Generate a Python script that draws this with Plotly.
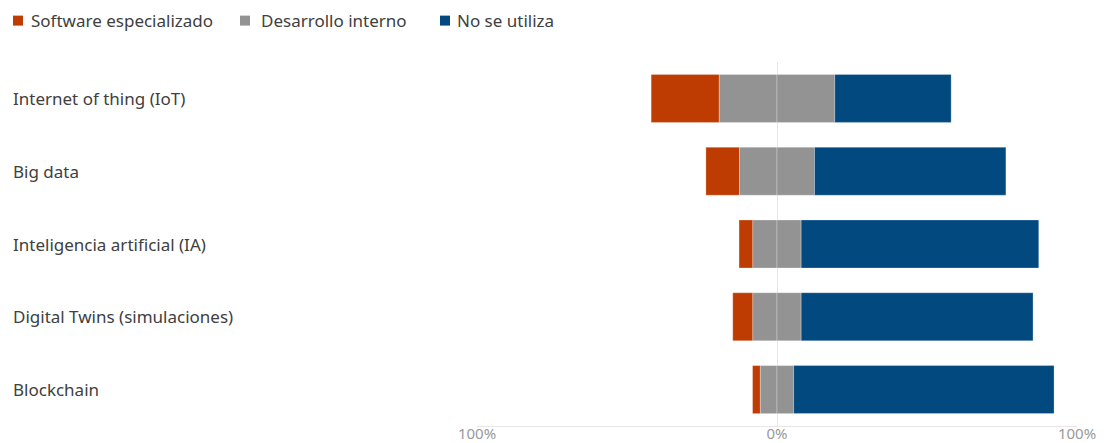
import plotly.graph_objects as go

categories = ["Internet of thing (IoT)", "Big data", "Inteligencia artificial (IA)",
              "Digital Twins (simulaciones)", "Blockchain"]
software = [22.7, 11.2, 4.6, 6.7, 2.6]
interno = [38.5, 25.0, 16.1, 16.1, 11.1]
no_utiliza = [38.8, 63.8, 79.2, 77.3, 86.8]
series_names = ["Software especializado", "Desarrollo interno", "No se utiliza"]
tick_vals = [-100, 0, 100]
tick_text = ["100%", "0%", "100%"]

C_ORANGE = "#BE3C02"
C_GRAY = "#939393"
C_BLUE = "#02497F"
colors = [C_ORANGE, C_GRAY, C_BLUE]
FONT = "Segoe UI, Noto Sans, Open Sans, sans-serif"

W, H = 1109, 443
plot_left, plot_right = 477, 1077
plot_top, plot_bottom = 61.5, 426.5
plot_w = plot_right - plot_left
plot_h = plot_bottom - plot_top


def px(x):
    return (x - plot_left) / plot_w


def py(y):
    return (plot_bottom - y) / plot_h


half = [g / 2 for g in interno]
line = dict(width=0.8, color="rgba(255,255,255,0.35)")

fig = go.Figure()
fig.add_trace(go.Bar(
    y=categories, x=software, base=[-h - s for h, s in zip(half, software)],
    orientation="h", name=series_names[0], marker=dict(color=C_ORANGE, line=line)))
fig.add_trace(go.Bar(
    y=categories, x=half, base=[-h for h in half],
    orientation="h", name=series_names[1], marker=dict(color=C_GRAY, line=line)))
fig.add_trace(go.Bar(
    y=categories, x=half, base=[0 for _ in half],
    orientation="h", name=series_names[1], marker=dict(color=C_GRAY, line=line)))
fig.add_trace(go.Bar(
    y=categories, x=no_utiliza, base=half,
    orientation="h", name=series_names[2], marker=dict(color=C_BLUE, line=line)))

# category labels, left aligned
for c in categories:
    fig.add_annotation(
        x=px(11), xref="paper", y=c, yref="y",
        text=c, showarrow=False, xanchor="left", yanchor="middle",
        font=dict(family=FONT, size=17, color="#404040"))

# legend (top-left)
legend_sq_x = [13, 240, 440]
legend_txt_x = [29, 259, 455]
legend_y = 20
for name, col, sx, tx in zip(series_names, colors, legend_sq_x, legend_txt_x):
    fig.add_shape(type="rect", xref="paper", yref="paper",
                  x0=px(sx), x1=px(sx + 10), y0=py(legend_y - 5), y1=py(legend_y + 5),
                  fillcolor=col, line=dict(width=0))
    fig.add_annotation(
        x=px(tx), xref="paper", y=py(legend_y), yref="paper",
        text=name, showarrow=False, xanchor="left", yanchor="middle",
        font=dict(family=FONT, size=17, color="#404040"))

fig.update_layout(
    width=W, height=H,
    margin=dict(l=plot_left, r=W - plot_right, t=plot_top, b=H - plot_bottom),
    barmode="overlay", bargap=0.34,
    plot_bgcolor="white", paper_bgcolor="white",
    font=dict(family=FONT),
    showlegend=False,
    xaxis=dict(
        range=[-100, 100], tickvals=tick_vals, ticktext=tick_text,
        showgrid=True, gridcolor="#E6E6E6", gridwidth=1,
        zeroline=False, showline=True, linecolor="#E6E6E6",
        tickfont=dict(family=FONT, size=15, color="#999999"),
        ticks="", ticklabelstandoff=-6, automargin=False, fixedrange=True),
    yaxis=dict(
        categoryorder="array", categoryarray=categories, autorange="reversed",
        showticklabels=False, showgrid=False, zeroline=False, ticks="",
        automargin=False),
)

fig.write_html(
    "out.html",
    post_script="document.body.style.margin='0';document.body.style.overflow='hidden';")
